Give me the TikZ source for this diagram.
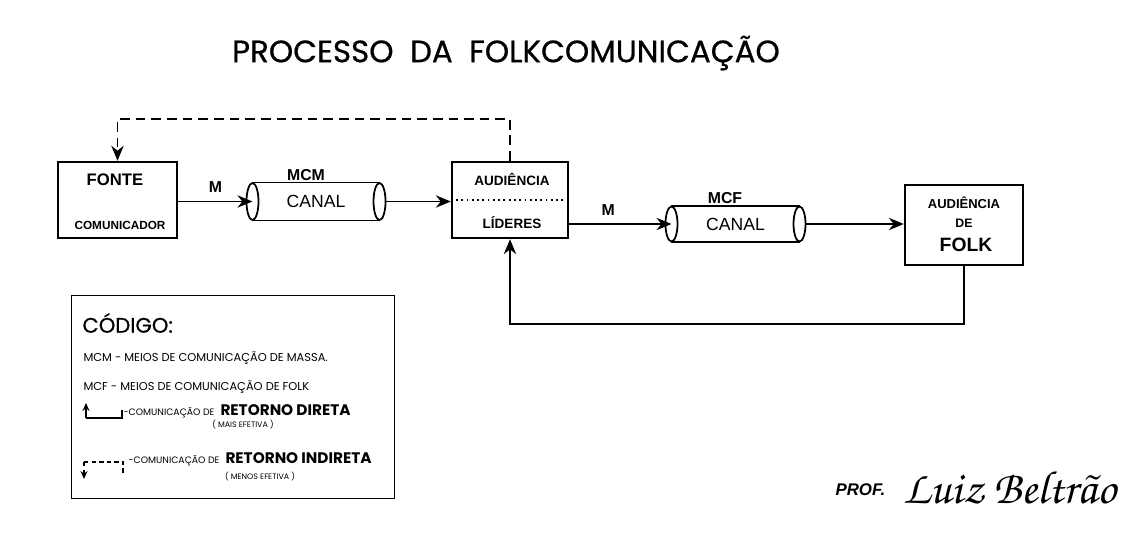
\documentclass[tikz,border=0pt]{standalone}
\usepackage{fontspec}
\setmainfont{Liberation Sans}
\newfontfamily\titlefont{Poppins}
\newfontfamily\titlefontb[FakeBold=0.6]{Poppins}
\usetikzlibrary{positioning,arrows.meta}

\tikzset{
  caixa/.style={draw, line width=1.4pt, inner sep=0pt},
  tubo/.style={inner sep=0pt},
  rotulo/.style={font=\bfseries\fontsize{7.7}{9}\selectfont, inner sep=0pt},
  sinal/.style={font=\bfseries\fontsize{9}{10}\selectfont, inner sep=0pt},
  legenda/.style={font=\titlefont\fontsize{6.5}{8}\selectfont, anchor=west, inner sep=0pt},
  seta/.style={->, line width=1.1pt},
  retorno/.style={->, line width=1.1pt, dash pattern=on 5.5pt off 3.4pt},
  pequena/.style={->, line width=0.9pt, >={Stealth[length=4.5pt, width=4pt]}},
}

\begin{document}
\begin{tikzpicture}[>={Stealth[length=8.5pt, width=7pt]}, x=0.02cm, y=-0.02cm, semithick]
\useasboundingbox[fill=white] (0,0) rectangle (1131,547);

\newcommand{\canaltubo}[2]{
  \draw[line width=1pt] (#1.north west) -- (#1.north east);
  \draw[line width=1pt] (#1.south west) -- (#1.south east);
  \draw[line width=1pt] (#1.west) ellipse [x radius=0.12cm, y radius=#2];
  \draw[line width=1pt] (#1.east) ellipse [x radius=0.12cm, y radius=#2];
}

\node[font=\titlefontb\fontsize{17.6}{20}\selectfont] (titulo) at (506,53) {PROCESSO \ DA \ FOLKCOMUNICAÇÃO};

\node[caixa, minimum width=2.38cm, minimum height=1.52cm] (fonte) at (117.5,200) {};
\node[rotulo, font=\bfseries\fontsize{9.5}{11}\selectfont] (fonte-a) at (115,180) {FONTE};
\node[rotulo, font=\bfseries\fontsize{6.7}{8}\selectfont] (fonte-b) at (120,225) {COMUNICADOR};

\node[tubo, minimum width=2.52cm, minimum height=0.74cm] (mcm) at (316,201.5) {\fontsize{10}{12}\selectfont CANAL};
\canaltubo{mcm}{0.37cm}
\node[sinal] (mcm-r) at (306,175) {MCM};

\node[caixa, minimum width=2.32cm, minimum height=1.52cm] (aud) at (510,200) {};
\node[rotulo] (aud-a) at (512,180) {AUDIÊNCIA};
\node[rotulo] (aud-b) at (512,223) {LÍDERES};
\draw[dotted, line width=1pt] (aud.west) -- (aud.east);

\node[tubo, minimum width=2.54cm, minimum height=0.7cm] (mcf) at (735.5,224) {\fontsize{10}{12}\selectfont CANAL};
\canaltubo{mcf}{0.35cm}
\node[sinal] (mcf-r) at (725,198) {MCF};

\node[caixa, minimum width=2.36cm, minimum height=1.6cm] (folk) at (964,225) {};
\node[rotulo, font=\bfseries\fontsize{7.4}{9}\selectfont] (folk-a) at (964,203) {AUDIÊNCIA};
\node[rotulo, font=\bfseries\fontsize{7}{9}\selectfont] (folk-b) at (964,223) {DE};
\node[rotulo, font=\bfseries\fontsize{11}{13}\selectfont] (folk-c) at (966,245) {FOLK};

\draw[seta] (fonte.east |- mcm.west) -- (mcm.west) node[sinal, midway, above=0.17cm] (m1) {M};
\draw[seta] ([xshift=0.12cm]mcm.east) -- (aud.west |- mcm.east);
\draw[seta] (aud.east |- mcf.west) -- (mcf.west) node[sinal, pos=0.38, above=0.15cm] (m2) {M};
\draw[seta] ([xshift=0.12cm]mcf.east) -- (folk.west |- mcf.east);

\draw[retorno] (aud.north) -- ++(0,-42) -| (fonte.north);
\draw[seta] (folk.south) -- ++(0,58) -| (aud.south);

\node[draw, line width=1pt, minimum width=6.46cm, minimum height=4.06cm] (codigo) at (233,397) {};
\node[legenda, font=\titlefontb\fontsize{12}{14}\selectfont] (cod-t) at (82,323) {CÓDIGO:};
\node[legenda] (cod-1) at (83,358) {MCM - MEIOS DE COMUNICAÇÃO DE MASSA.};
\node[legenda] (cod-2) at (83,387) {MCF - MEIOS DE COMUNICAÇÃO DE FOLK};

\draw[pequena] (86,418) -- (86,403);
\draw[line width=0.9pt] (86,418) -- (122,418) -- (122,410);
\node[legenda] (cod-3) at (123,411) {{\fontsize{5.3}{6}\selectfont -COMUNICAÇÃO DE}\ \ {\bfseries\fontsize{8.7}{10}\selectfont RETORNO DIRETA}};
\node[legenda, anchor=center, font=\titlefont\fontsize{4.5}{5}\selectfont] (cod-3b) at (243,425) {( MAIS EFETIVA )};

\draw[pequena, dash pattern=on 2.5pt off 1.8pt] (84,462) -- (84,479);
\draw[line width=0.9pt, dash pattern=on 2.5pt off 1.8pt] (84,462) -- (123,462) -- (123,475);
\node[legenda] (cod-4) at (128,459) {{\fontsize{5.3}{6}\selectfont -COMUNICAÇÃO DE}\ \ {\bfseries\fontsize{8.7}{10}\selectfont RETORNO INDIRETA}};
\node[legenda, anchor=center, font=\titlefont\fontsize{4.5}{5}\selectfont] (cod-4b) at (260,477) {( MENOS EFETIVA )};

\node[font=\bfseries\itshape\fontsize{9.6}{11}\selectfont, anchor=west, inner sep=0pt] (prof) at (835,490) {PROF.};
\node[font=\usefont{T1}{pzc}{mb}{it}\fontsize{26.5}{28}\selectfont, anchor=west, inner sep=0pt] (autor) at (903,487) {Luiz Beltr\~ao};
\end{tikzpicture}
\end{document}
